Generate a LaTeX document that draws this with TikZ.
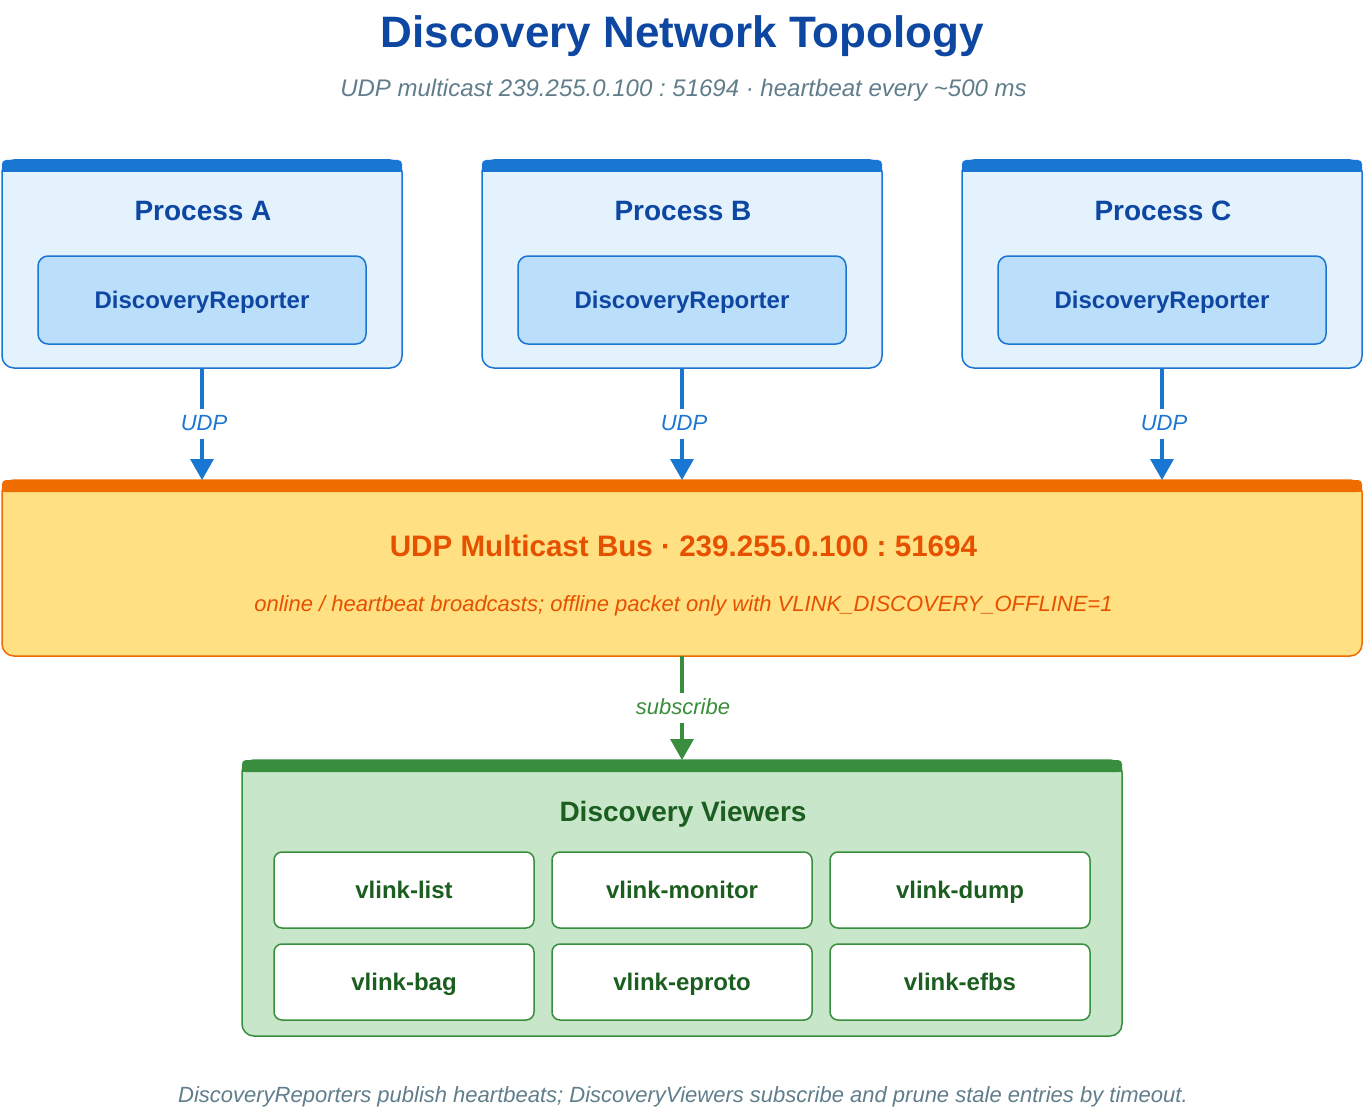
\documentclass[tikz,border=0pt]{standalone}
\usepackage{fontspec}
\setmainfont{Liberation Sans}
\usetikzlibrary{arrows.meta}
\frenchspacing
\definecolor{tblue}{HTML}{0D47A1}
\definecolor{bblue}{HTML}{1976D2}
\definecolor{pfill}{HTML}{E3F2FD}
\definecolor{rfill}{HTML}{BBDEFB}
\definecolor{borange}{HTML}{EF6C00}
\definecolor{busfill}{HTML}{FFE082}
\definecolor{tbus}{HTML}{E65100}
\definecolor{bgreen}{HTML}{388E3C}
\definecolor{gfill}{HTML}{C8E6C9}
\definecolor{tgreen}{HTML}{1B5E20}
\definecolor{tgray}{HTML}{607D8B}
\newcommand\setfs[1]{\fontsize{#1}{#1}\selectfont}
\newcommand\topbar[2]{%
  \fill[#2, rounded corners=4pt] (#1.north west) rectangle ([yshift=-12pt]#1.north east);
  \fill[#2] ([yshift=-6pt]#1.north west) rectangle ([yshift=-12pt]#1.north east);}
\begin{document}
\begin{tikzpicture}[x=1pt,y=-1pt,
  box/.style={draw, line width=1.5pt, rounded corners=12pt, inner sep=0pt, outer sep=0pt},
  pbox/.style={box, draw=bblue, fill=pfill, minimum width=400pt, minimum height=208pt},
  rbox/.style={box, draw=bblue, fill=rfill, rounded corners=10pt, minimum width=328pt, minimum height=88pt},
  tool/.style={box, draw=bgreen, fill=white, rounded corners=8pt, minimum width=260pt, minimum height=76pt},
  txt/.style={inner sep=0pt, anchor=base},
  ptitle/.style={txt, text=tblue, font=\setfs{28}\bfseries},
  rtitle/.style={txt, text=tblue, font=\setfs{24}\bfseries},
  ttitle/.style={txt, text=tgreen, font=\setfs{24}\bfseries},
  lbl/.style={fill=white, inner xsep=3pt, inner ysep=5pt, text height=16pt, text depth=4pt, font=\setfs{22}\itshape},
  arr/.style={line width=3.4pt, -{Triangle[length=21pt,width=23pt]}}
]
\useasboundingbox (0,0) rectangle (1365,1118);

% title
\node[txt, text=tblue, font=\setfs{44}\bfseries] (title) at (682.5,47.5) {Discovery Network Topology};
\node[txt, text=tgray, font=\setfs{24}\itshape] (subtitle) at (683.5,96.6) {UDP multicast 239.255.0.100 : 51694 · heartbeat every \textasciitilde 500 ms};

% processes
\node[pbox] (pA) at (202,264) {};
\node[pbox] (pB) at (682,264) {};
\node[pbox] (pC) at (1162,264) {};
\topbar{pA}{bblue}
\topbar{pB}{bblue}
\topbar{pC}{bblue}
\node[ptitle] (tA) at (203,221) {Process A};
\node[ptitle] (tB) at (683,221) {Process B};
\node[ptitle] (tC) at (1163,221) {Process C};
\node[rbox] (rA) at (202,300) {};
\node[rbox] (rB) at (682,300) {};
\node[rbox] (rC) at (1162,300) {};
\node[rtitle] (rtA) at (202,308.6) {DiscoveryReporter};
\node[rtitle] (rtB) at (682,308.6) {DiscoveryReporter};
\node[rtitle] (rtC) at (1162,308.6) {DiscoveryReporter};

% bus
\node[box, draw=borange, fill=busfill, minimum width=1360pt, minimum height=176pt] (bus) at (682,568) {};
\topbar{bus}{borange}
\node[txt, text=tbus, font=\setfs{29.6}\bfseries] (bustitle) at (683.5,556.5) {UDP Multicast Bus · 239.255.0.100 : 51694};
\node[txt, text=tbus, font=\setfs{22}\itshape] (bussub) at (683.5,611) {online / heartbeat broadcasts; offline packet only with VLINK\_DISCOVERY\_OFFLINE=1};

% arrows
\coordinate (bA) at (202,480);
\coordinate (bB) at (682,480);
\coordinate (bC) at (1162,480);
\draw[arr, bblue] (pA.south) -- node[lbl, text=bblue, xshift=2pt] (lA) {UDP} (bA);
\draw[arr, bblue] (pB.south) -- node[lbl, text=bblue, xshift=2pt] (lB) {UDP} (bB);
\draw[arr, bblue] (pC.south) -- node[lbl, text=bblue, xshift=2pt] (lC) {UDP} (bC);

% viewers
\node[box, draw=bgreen, fill=gfill, minimum width=880pt, minimum height=276pt] (view) at (682,898) {};
\topbar{view}{bgreen}
\node[txt, text=tgreen, font=\setfs{28}\bfseries] (viewtitle) at (683,821) {Discovery Viewers};
\draw[arr, bgreen] (bus.south) -- node[lbl, text=bgreen, xshift=1pt] (lS) {subscribe} (view.north);

\node[tool] (v1) at (404,890) {};
\node[tool] (v2) at (682,890) {};
\node[tool] (v3) at (960,890) {};
\node[tool] (v4) at (404,982) {};
\node[tool] (v5) at (682,982) {};
\node[tool] (v6) at (960,982) {};
\node[ttitle] (vt1) at (404,898.6) {vlink-list};
\node[ttitle] (vt2) at (682,898.6) {vlink-monitor};
\node[ttitle] (vt3) at (960,898.6) {vlink-dump};
\node[ttitle] (vt4) at (404,990.6) {vlink-bag};
\node[ttitle] (vt5) at (682,990.6) {vlink-eproto};
\node[ttitle] (vt6) at (960,990.6) {vlink-efbs};

% footer
\node[txt, text=tgray, font=\setfs{22}\itshape] (footer) at (683,1102) {DiscoveryReporters publish heartbeats; DiscoveryViewers subscribe and prune stale entries by timeout.};
\end{tikzpicture}
\end{document}
